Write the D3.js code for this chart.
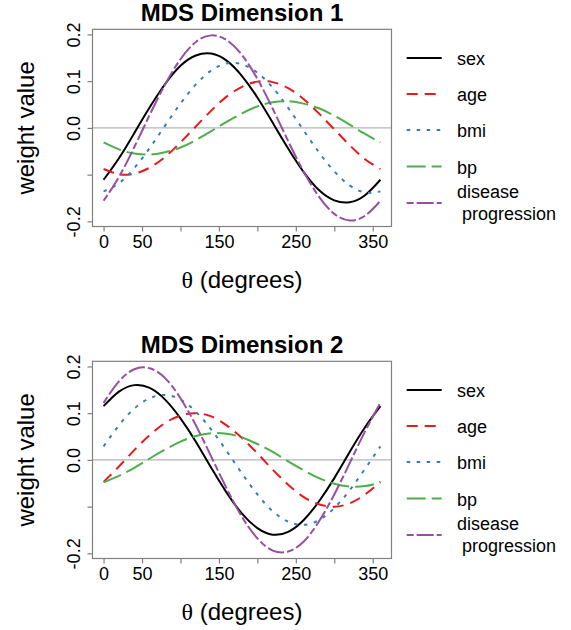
<!DOCTYPE html>
<html>
<head>
<meta charset="utf-8">
<script src="https://cdn.jsdelivr.net/npm/d3@7"></script>
<style>
  body { margin: 0; background: #fff; }
  text { font-family: "Liberation Sans", Arial, sans-serif; fill: #000; }
</style>
</head>
<body>
<div id="chart"></div>
<script>
var theta = [0, 20, 40, 60, 80, 100, 120, 140, 160, 180, 200, 220, 240, 260, 280, 300, 320, 340, 360];

// MDS dimension 1 weights
var sex1 = [-0.111, -0.065, -0.011, 0.044, 0.094, 0.133, 0.155, 0.159, 0.144, 0.111, 0.065, 0.011, -0.044, -0.094, -0.133, -0.155, -0.159, -0.144, -0.111];
var age1 = [-0.088, -0.099, -0.098, -0.085, -0.062, -0.031, 0.003, 0.037, 0.067, 0.088, 0.099, 0.098, 0.085, 0.062, 0.031, -0.003, -0.037, -0.067, -0.088];
var bmi1 = [-0.136, -0.118, -0.086, -0.043, 0.005, 0.052, 0.093, 0.123, 0.138, 0.136, 0.118, 0.086, 0.043, -0.005, -0.052, -0.093, -0.123, -0.138, -0.136];
var bp1 = [-0.031, -0.046, -0.055, -0.057, -0.052, -0.042, -0.026, -0.007, 0.013, 0.031, 0.046, 0.055, 0.057, 0.052, 0.042, 0.026, 0.007, -0.013, -0.031];
var dp1 = [-0.156, -0.105, -0.041, 0.028, 0.093, 0.147, 0.184, 0.198, 0.188, 0.156, 0.105, 0.041, -0.028, -0.093, -0.147, -0.184, -0.198, -0.188, -0.156];

// MDS dimension 2 weights
var sex2 = [0.115, 0.146, 0.160, 0.154, 0.129, 0.089, 0.039, -0.017, -0.070, -0.115, -0.146, -0.160, -0.154, -0.129, -0.089, -0.039, 0.017, 0.070, 0.115];
var age2 = [-0.047, -0.014, 0.021, 0.053, 0.079, 0.095, 0.100, 0.093, 0.074, 0.047, 0.014, -0.021, -0.053, -0.079, -0.095, -0.100, -0.093, -0.074, -0.047];
var bmi2 = [0.029, 0.074, 0.110, 0.132, 0.139, 0.129, 0.103, 0.065, 0.019, -0.029, -0.074, -0.110, -0.132, -0.139, -0.129, -0.103, -0.065, -0.019, 0.029];
var bp2 = [-0.048, -0.034, -0.017, 0.003, 0.022, 0.039, 0.051, 0.057, 0.056, 0.048, 0.034, 0.017, -0.003, -0.022, -0.039, -0.051, -0.057, -0.056, -0.048];
var dp2 = [0.122, 0.168, 0.194, 0.196, 0.175, 0.132, 0.074, 0.007, -0.061, -0.122, -0.168, -0.194, -0.196, -0.175, -0.132, -0.074, -0.007, 0.061, 0.122];

var seriesNames = ["sex", "age", "bmi", "bp", "disease progression"];
var xTicks = [0, 50, 100, 150, 200, 250, 300, 350];
var xTickLabels = ["0", "50", "", "150", "", "250", "", "350"];
var yTicks = [-0.2, -0.1, 0.0, 0.1, 0.2];
var yTickLabels = ["-0.2", "", "0.0", "0.1", "0.2"];

// line look per series (R Set1 colours + lty)
var colors = ["#000000", "#E41A1C", "#377EB8", "#4DAF4A", "#984EA3"];
var dashes = [null, "11,7", "3.5,6.5", "19,6", "7,3,17,3"];

var svgWidth = 571, svgHeight = 630;

var svg = d3.select("#chart")
  .append("svg")
  .attr("width", svgWidth)
  .attr("height", svgHeight);

function drawPanel(top, title, dataRows) {
  // plot box
  var left = 92.5, right = 391.5, boxTop = top, boxBottom = top + 197.2;

  var x = d3.scaleLinear().domain([-14.4, 374.4]).range([left, right]);
  var y = d3.scaleLinear().domain([-0.211, 0.211]).range([boxBottom, boxTop]);

  var g = svg.append("g");

  // zero reference line
  g.append("line")
    .attr("x1", left).attr("x2", right)
    .attr("y1", y(0)).attr("y2", y(0))
    .attr("stroke", "#b3b3b3")
    .attr("stroke-width", 1.2);

  // curves
  var line = d3.line()
    .x(function(d) { return x(d[0]); })
    .y(function(d) { return y(d[1]); })
    .curve(d3.curveNatural);

  dataRows.forEach(function(vals, i) {
    var pts = theta.map(function(t, j) { return [t, vals[j]]; });
    g.append("path")
      .datum(pts)
      .attr("d", line)
      .attr("fill", "none")
      .attr("stroke", colors[i])
      .attr("stroke-width", 2)
      .attr("stroke-dasharray", dashes[i]);
  });

  // box
  g.append("rect")
    .attr("x", left).attr("y", boxTop)
    .attr("width", right - left).attr("height", boxBottom - boxTop)
    .attr("fill", "none")
    .attr("stroke", "#808080")
    .attr("stroke-width", 1.2);

  // x axis
  var bottomAxis = d3.axisBottom(x)
    .tickValues(xTicks)
    .tickSize(5)
    .tickPadding(4)
    .tickFormat(function(d, i) { return xTickLabels[i]; });

  var xa = g.append("g")
    .attr("transform", "translate(0," + boxBottom + ")")
    .call(bottomAxis);
  xa.select(".domain").remove();
  xa.selectAll(".tick line").attr("stroke", "#808080").attr("stroke-width", 1.2);
  xa.selectAll(".tick text")
    .attr("font-size", 18)
    .attr("font-family", "Liberation Sans, Arial, sans-serif")
    .attr("fill", "#000")
    .attr("dy", null)
    .attr("y", 21.8);

  // y axis, labels rotated like R
  var leftAxis = d3.axisLeft(y)
    .tickValues(yTicks)
    .tickSize(5)
    .tickFormat(function(d, i) { return yTickLabels[i]; });

  var ya = g.append("g")
    .attr("transform", "translate(" + left + ",0)")
    .call(leftAxis);
  ya.select(".domain").remove();
  ya.selectAll(".tick line").attr("stroke", "#808080").attr("stroke-width", 1.2);
  ya.selectAll(".tick text")
    .attr("font-size", 18)
    .attr("font-family", "Liberation Sans, Arial, sans-serif")
    .attr("fill", "#000")
    .attr("x", null).attr("dy", null)
    .attr("text-anchor", "middle")
    .attr("transform", "translate(-12.5,0) rotate(-90)");

  // title
  g.append("text")
    .attr("x", (left + right) / 2)
    .attr("y", top - 8.5)
    .attr("text-anchor", "middle")
    .attr("font-size", 24)
    .attr("font-weight", "bold")
    .text(title);

  // x label with theta
  var xl = g.append("text")
    .attr("x", (left + right) / 2)
    .attr("y", top + 258.7)
    .attr("text-anchor", "middle")
    .attr("font-size", 24);
  xl.append("tspan")
    .attr("font-family", "Liberation Serif, Times New Roman, serif")
    .text("\u03B8");
  xl.append("tspan").text(" (degrees)");

  // y label
  g.append("text")
    .attr("transform", "translate(34," + (top + 98.6) + ") rotate(-90)")
    .attr("text-anchor", "middle")
    .attr("font-size", 24)
    .text("weight value");

  // legend
  var legY = [28.8, 64.8, 100.8, 137.2, 173.8];
  var leg = g.append("g");
  seriesNames.forEach(function(name, i) {
    var ly = top + legY[i];
    leg.append("line")
      .attr("x1", 406.7).attr("x2", 441.7)
      .attr("y1", ly).attr("y2", ly)
      .attr("stroke", colors[i])
      .attr("stroke-width", 2)
      .attr("stroke-dasharray", dashes[i]);
    if (i < 4) {
      leg.append("text")
        .attr("x", 457).attr("y", ly + 7)
        .attr("font-size", 18)
        .text(name);
    } else {
      var parts = name.split(" ");
      leg.append("text")
        .attr("x", 457).attr("y", ly - 5)
        .attr("font-size", 18)
        .text(parts[0]);
      leg.append("text")
        .attr("x", 462).attr("y", ly + 17)
        .attr("font-size", 18)
        .text(parts[1]);
    }
  });
}

drawPanel(29.3, "MDS Dimension 1", [sex1, age1, bmi1, bp1, dp1]);
drawPanel(361.3, "MDS Dimension 2", [sex2, age2, bmi2, bp2, dp2]);
</script>
</body>
</html>
